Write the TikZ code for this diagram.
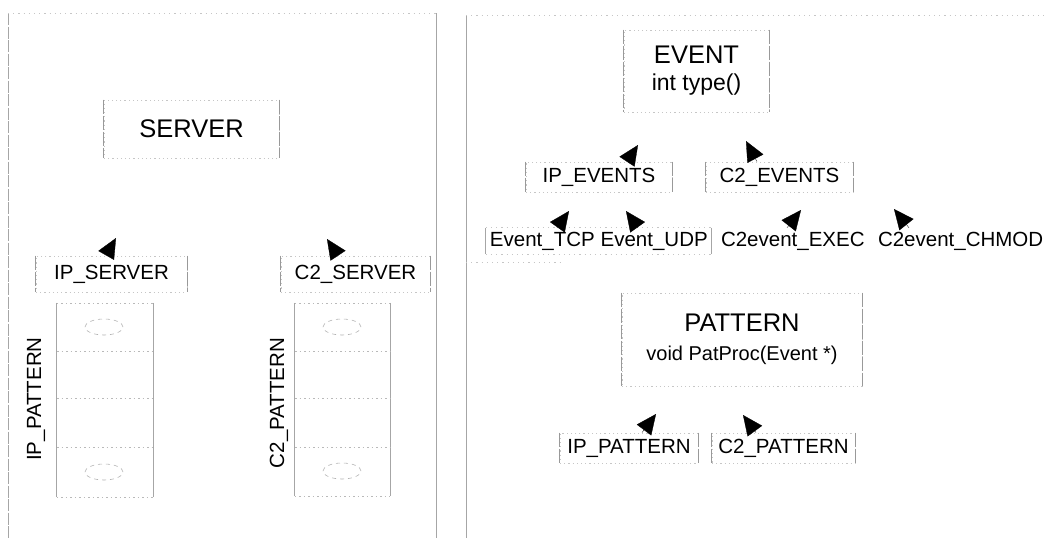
\documentclass[tikz,border=0pt]{standalone}
\usepackage{fontspec}
\setmainfont{Liberation Sans}
\usetikzlibrary{arrows.meta}
\newcommand\fbig{\fontsize{25.5}{30}\selectfont}
\newcommand\fnorm{\fontsize{20.5}{24}\selectfont}
\newcommand\fmid{\fontsize{23}{27}\selectfont}
\newcommand\fsub{\fontsize{20}{24}\selectfont}
\newcommand\boxsides[1]{\draw[side] (#1.north west) -- (#1.south west) (#1.north east) -- (#1.south east);}
\begin{document}
\begin{tikzpicture}[x=1pt,y=-1pt,
  every node/.style={font=\fnorm, text=black},
  cls/.style={draw=gray!45, dash pattern=on 1.2pt off 3pt, line width=0.7pt, inner sep=0pt},
  rowtxt/.style={inner xsep=4pt, inner ysep=0pt, text height=15pt, text depth=4pt, minimum height=26pt},
  inh/.style={-{Triangle[length=20pt,width=18pt]}, line width=0.3pt, black},
  frame/.style={gray!70, line width=0.9pt},
  side/.style={gray!80, line width=1pt, dash pattern=on 14pt off 2pt},
  faint/.style={gray!45, line width=0.7pt, dash pattern=on 1.2pt off 4pt},
  cell/.style={gray!55, line width=0.6pt, dash pattern=on 1.5pt off 3pt},
  solidside/.style={gray!70, line width=1pt},
  paren/.style={gray!60, line width=0.6pt, dash pattern=on 4pt off 4pt},
]
\useasboundingbox[fill=white] (0,0) rectangle (1045,538);

% ---------- panel frames ----------
\draw[frame, dash pattern=on 12pt off 1.5pt] (8,13) -- (8,538);
\draw[frame] (436,13) -- (436,538);
\draw[faint] (8,13) -- (436,13);
\draw[frame] (466,15) -- (466,538);
\draw[faint] (466,15) -- (1045,15);
\draw[faint] (466,262) -- (560,262);

% ---------- left panel ----------
\node[cls, minimum width=175pt, minimum height=58pt] (server) at (191.5,129) {\fbig SERVER};
\node[cls, minimum width=151pt, minimum height=36pt] (ipserver) at (111.5,274) {IP\_SERVER};
\node[cls, minimum width=149pt, minimum height=36pt] (c2server) at (355.5,274) {C2\_SERVER};
\boxsides{server}
\boxsides{ipserver}
\boxsides{c2server}

\coordinate (t1) at (116,238);
\coordinate (t2) at (327,239);
\draw[inh] (ipserver.north -| 106,0) -- (t1);
\draw[inh] (c2server.north -| 338,0) -- (t2);

% IP_PATTERN column
\node[draw=none, minimum width=96pt, minimum height=194pt, inner sep=0pt] (ipcol) at (105,400) {};
\draw[solidside] (ipcol.north west) -- (ipcol.south west);
\draw[solidside] (ipcol.north east) -- (ipcol.south east);
\draw[cell] (ipcol.north west) -- (ipcol.north east);
\draw[cell] (ipcol.south west) -- (ipcol.south east);
\draw[cell] (57,351) -- (153,351);
\draw[cell] (57,398) -- (153,398);
\draw[cell] (57,447) -- (153,447);
\draw[paren] (104,327) ellipse [x radius=19pt, y radius=8pt];
\draw[paren] (104,472) ellipse [x radius=19pt, y radius=8pt];
\node[rotate=90] (iplabel) at (36,399) {IP\_PATTERN};

% C2_PATTERN column
\node[draw=none, minimum width=95pt, minimum height=193pt, inner sep=0pt] (c2col) at (342.5,399.5) {};
\draw[solidside] (c2col.north west) -- (c2col.south west);
\draw[solidside] (c2col.north east) -- (c2col.south east);
\draw[cell] (c2col.north west) -- (c2col.north east);
\draw[cell] (c2col.south west) -- (c2col.south east);
\draw[cell] (295,351) -- (390,351);
\draw[cell] (295,398) -- (390,398);
\draw[cell] (295,447) -- (390,447);
\draw[paren] (342,327) ellipse [x radius=19pt, y radius=8pt];
\draw[paren] (342,471) ellipse [x radius=19pt, y radius=8pt];
\node[rotate=90] (c2label) at (279,403) {C2\_PATTERN};

% ---------- right panel ----------
\node[cls, minimum width=145pt, minimum height=82pt, align=center] (event) at (696.5,71)
  {\fbig EVENT\\[3pt]\fmid int type()};
\node[cls, minimum width=146pt, minimum height=30pt] (ipevents) at (599,177) {IP\_EVENTS};
\node[cls, minimum width=147pt, minimum height=30pt] (c2events) at (779.5,177) {C2\_EVENTS};
\boxsides{event}
\boxsides{ipevents}
\boxsides{c2events}

\coordinate (t3) at (638,145);
\coordinate (t4) at (746,141);
\draw[inh] (ipevents.north -| 627,0) -- (t3);
\draw[inh] (c2events.north -| 757,0) -- (t4);

\node[rowtxt] (etcp)  at (542.4,241) {Event\_TCP};
\node[rowtxt] (eudp)  at (654.2,241) {Event\_UDP};
\node[rowtxt] (eexec) at (792.8,241) {C2event\_EXEC};
\node[rowtxt] (echm)  at (960.6,241) {C2event\_CHMOD};
\draw[faint] (etcp.north west) -- (eudp.north east);
\draw[faint] (etcp.south west) -- (eudp.south east);
\draw[solidside] (etcp.north west) -- (etcp.south west);
\draw[solidside] (eudp.north east) -- (eudp.south east);

\coordinate (t5) at (569,211);
\coordinate (t6) at (626,211);
\coordinate (t7) at (801,210);
\coordinate (t8) at (894,209);
\draw[inh] (etcp.north -| 557,0) -- (t5);
\draw[inh] (eudp.north -| 638,0) -- (t6);
\draw[inh] (eexec.north -| 787,0) -- (t7);
\draw[inh] (echm.north -| 909,0) -- (t8);

\node[cls, minimum width=240pt, minimum height=93pt, align=center] (pattern) at (742,339.5)
  {\fbig PATTERN\\[5pt]\fsub void PatProc(Event *)};
\node[cls, minimum width=138pt, minimum height=30pt] (ippat) at (629,448) {IP\_PATTERN};
\node[cls, minimum width=143pt, minimum height=30pt] (c2pat) at (783.5,448) {C2\_PATTERN};
\boxsides{pattern}
\boxsides{ippat}
\boxsides{c2pat}

\coordinate (t9) at (656,414);
\coordinate (t10) at (743,415);
\draw[inh] (ippat.north -| 642,0) -- (t9);
\draw[inh] (c2pat.north -| 756,0) -- (t10);
\end{tikzpicture}
\end{document}
